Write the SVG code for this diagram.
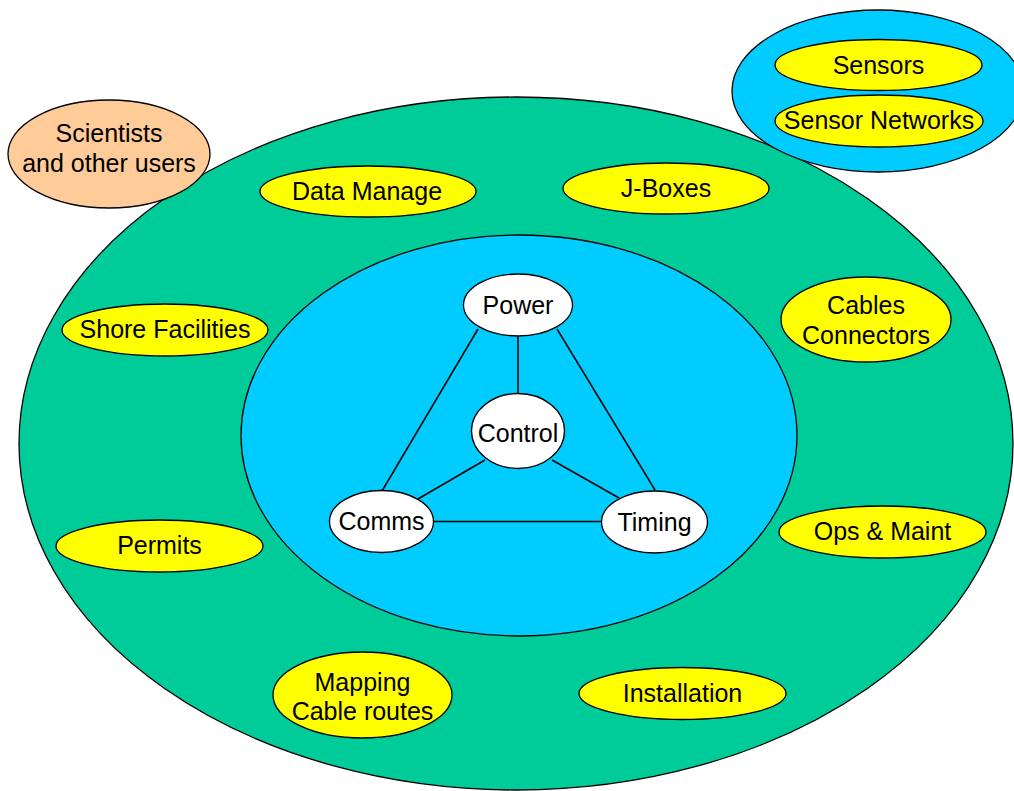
<svg xmlns="http://www.w3.org/2000/svg" width="1014" height="791" viewBox="0 0 1014 791">
<style>
.s{stroke:#000;stroke-width:1.3}
.g{fill:#00CC99}
.b{fill:#00CCFF}
.y{fill:#FFFF00}
.w{fill:#FFFFFF}
.o{fill:#FFCC99}
text{font-family:"Liberation Sans",Arial,sans-serif;font-size:25px;text-anchor:middle;fill:#000}
.c line{stroke:#000;stroke-width:1.5}
</style>
<rect width="1014" height="791" fill="#fff"/>
<g id="outer-ring"><ellipse class="s g" cx="516" cy="443.5" rx="497" ry="346.5"/></g>
<g id="core"><ellipse class="s b" cx="519" cy="435.5" rx="278" ry="200.5"/></g>
<g id="sensor-group"><ellipse class="s b" cx="878" cy="91" rx="146" ry="81"/></g>
<g id="sensors"><ellipse class="s y" cx="878.5" cy="65" rx="103.5" ry="25.5"/><text x="878.5" y="73.5">Sensors</text></g>
<g id="sensor-networks"><ellipse class="s y" cx="879" cy="121" rx="104" ry="26"/><text x="879" y="129">Sensor Networks</text></g>
<g id="scientists"><ellipse class="s o" cx="109" cy="154" rx="101" ry="54"/><text x="109" y="141.5">Scientists</text><text x="109" y="171.5">and other users</text></g>
<g id="data-manage"><ellipse class="s y" cx="368" cy="191.5" rx="108" ry="25.5"/><text x="367" y="199.5">Data Manage</text></g>
<g id="j-boxes"><ellipse class="s y" cx="666" cy="188.5" rx="103" ry="25.5"/><text x="666" y="196.5">J-Boxes</text></g>
<g id="shore-facilities"><ellipse class="s y" cx="165" cy="330" rx="103" ry="26"/><text x="165" y="338">Shore Facilities</text></g>
<g id="cables-connectors"><ellipse class="s y" cx="866" cy="319.5" rx="85" ry="42.5"/><text x="866" y="313.5">Cables</text><text x="866" y="343.5">Connectors</text></g>
<g id="permits"><ellipse class="s y" cx="159.5" cy="546" rx="103.5" ry="26"/><text x="159.5" y="554">Permits</text></g>
<g id="ops-maint"><ellipse class="s y" cx="882.5" cy="532" rx="103.5" ry="26"/><text x="882.5" y="540">Ops &amp; Maint</text></g>
<g id="mapping"><ellipse class="s y" cx="362.5" cy="695" rx="89.5" ry="43"/><text x="362.5" y="690.5">Mapping</text><text x="362.5" y="720">Cable routes</text></g>
<g id="installation"><ellipse class="s y" cx="682.5" cy="693.5" rx="103.5" ry="26"/><text x="682.5" y="702">Installation</text></g>
<g id="connectors" class="c">
<line x1="518" y1="334" x2="518" y2="394"/>
<line x1="478" y1="329" x2="382" y2="491"/>
<line x1="557" y1="329" x2="655" y2="490"/>
<line x1="485" y1="460" x2="418" y2="499"/>
<line x1="552" y1="460" x2="619" y2="498"/>
<line x1="433" y1="521.5" x2="603" y2="521.5"/>
</g>
<g id="power"><ellipse class="s w" cx="518" cy="305" rx="54.5" ry="31"/><text x="518" y="313.5">Power</text></g>
<g id="control"><ellipse class="s w" cx="518" cy="431" rx="46.5" ry="37.5"/><text x="518" y="441.5">Control</text></g>
<g id="comms"><ellipse class="s w" cx="381.5" cy="521.5" rx="52" ry="31"/><text x="381.5" y="530">Comms</text></g>
<g id="timing"><ellipse class="s w" cx="654.5" cy="522" rx="53" ry="31"/><text x="654.5" y="530.5">Timing</text></g>
</svg>
